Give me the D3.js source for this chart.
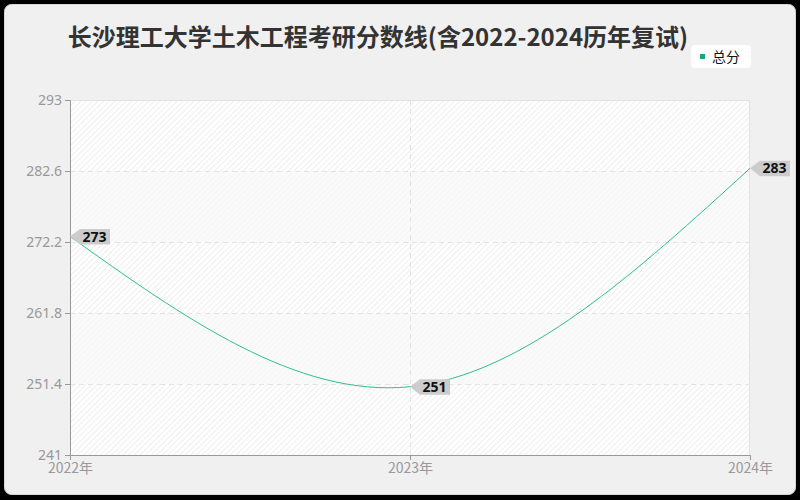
<!DOCTYPE html>
<html>
<head>
<meta charset="utf-8">
<script src="https://cdn.jsdelivr.net/npm/d3@7/dist/d3.min.js"></script>
<style>
  body { margin: 0; background: #000; }
  svg { display: block; }
</style>
</head>
<body>
<div id="chart"></div>
<script>
// Data.
const years = ["2022年", "2023年", "2024年"];
const totalScores = [273, 251, 283];
const yTicks = [241, 251.4, 261.8, 272.2, 282.6, 293];
const seriesName = "总分";
const titleText = "长沙理工大学土木工程考研分数线(含2022-2024历年复试)";

const W = 800, H = 500;
const margin = {top: 100, right: 50, bottom: 45, left: 70};
const width = W - margin.left - margin.right,
      height = H - margin.top - margin.bottom;
const lineColor = "#2dbf8e";

const svg = d3.select("#chart").append("svg")
    .attr("width", W)
    .attr("height", H)
    .style("font-family", "'Noto Sans CJK SC', 'Noto Sans', sans-serif");

// Hatch pattern for the plot background.
const defs = svg.append("defs");
defs.append("pattern")
    .attr("id", "hatch")
    .attr("width", 4).attr("height", 4)
    .attr("patternUnits", "userSpaceOnUse")
    .attr("patternTransform", "rotate(45)")
  .append("rect")
    .attr("width", 1).attr("height", 4)
    .attr("fill", "#eeeeee");

// Panel.
svg.append("rect")
    .attr("x", 0).attr("y", 0)
    .attr("width", W).attr("height", H)
    .attr("fill", "#000");
svg.append("rect")
    .attr("x", 4.5).attr("y", 4.5)
    .attr("width", W - 9).attr("height", H - 10)
    .attr("rx", 7)
    .attr("fill", "#f0f0f0")
    .attr("stroke", "#d8d8d8");

const g = svg.append("g")
    .attr("transform", `translate(${margin.left},${margin.top})`);

const x = d3.scalePoint()
    .domain(years)
    .range([0, width]);

const y = d3.scaleLinear()
    .domain([yTicks[0], yTicks[yTicks.length - 1]])
    .range([height, 0]);

// Alternating bands.
const bands = d3.pairs(yTicks);
g.selectAll(".band")
  .data(bands)
  .join("rect")
    .attr("x", 0)
    .attr("y", d => y(d[1]))
    .attr("width", width)
    .attr("height", d => y(d[0]) - y(d[1]))
    .attr("fill", (d, i) => i % 2 === 0 ? "#ffffff" : "#fafafa");
g.selectAll(".hatch")
  .data(bands)
  .join("rect")
    .attr("x", 0)
    .attr("y", d => y(d[1]))
    .attr("width", width)
    .attr("height", d => y(d[0]) - y(d[1]))
    .attr("fill", "url(#hatch)")
    .attr("opacity", (d, i) => i % 2 === 0 ? 1 : 0.4);

// Frame lines top / right.
g.append("line")
    .attr("x1", 0).attr("x2", width)
    .attr("y1", 0.5).attr("y2", 0.5)
    .attr("stroke", "#e3e3e3");
g.append("line")
    .attr("x1", width - 0.5).attr("x2", width - 0.5)
    .attr("y1", 0).attr("y2", height)
    .attr("stroke", "#e3e3e3");

// Grid lines.
g.selectAll(".hgrid")
  .data(yTicks.slice(1, -1))
  .join("line")
    .attr("x1", 0).attr("x2", width)
    .attr("y1", d => Math.round(y(d)) + 0.5)
    .attr("y2", d => Math.round(y(d)) + 0.5)
    .attr("stroke", "#e3e3e3")
    .attr("stroke-dasharray", "5,4");
g.selectAll(".vgrid")
  .data(years.slice(1, -1))
  .join("line")
    .attr("x1", d => x(d) + 0.5).attr("x2", d => x(d) + 0.5)
    .attr("y1", 0).attr("y2", height)
    .attr("stroke", "#e3e3e3")
    .attr("stroke-dasharray", "5,4");

// Axes.
const yAxis = g.append("g")
    .call(d3.axisLeft(y).tickValues(yTicks).tickSize(5).tickPadding(3)
      .tickFormat(d => d));
const xAxis = g.append("g")
    .attr("transform", `translate(0,${height})`)
    .call(d3.axisBottom(x).tickSize(5).tickPadding(3));
[yAxis, xAxis].forEach(a => {
  a.select(".domain").attr("stroke", "#999");
  a.selectAll(".tick line").attr("stroke", "#999");
  a.selectAll("text")
    .attr("fill", "#999")
    .style("font-size", "14px")
    .style("font-family", "'Noto Sans', sans-serif");
});
xAxis.selectAll("text").style("font-family", "'Noto Sans CJK SC', sans-serif");

// Line.
const line = d3.line()
    .x((d, i) => x(years[i]))
    .y(d => y(d))
    .curve(d3.curveNatural);
g.append("path")
    .datum(totalScores)
    .attr("fill", "none")
    .attr("stroke", lineColor)
    .attr("stroke-width", 1)
    .attr("d", line);

// Point labels (tag pointing left).
const tags = g.selectAll(".tag")
  .data(totalScores)
  .join("g")
    .attr("transform", (d, i) => `translate(${x(years[i])},${y(d)})`);
tags.append("path")
    .attr("d", "M0,0 L10,-7.5 L40,-7.5 L40,8 L10,8 Z")
    .attr("fill", "#cccccc");
tags.append("text")
    .attr("x", 12.5)
    .attr("y", 5)
    .attr("fill", "#111")
    .style("font-size", "14px")
    .style("font-weight", "bold")
    .style("font-family", "'Noto Sans', sans-serif")
    .text(d => d);

// Title.
svg.append("text")
    .attr("x", 378)
    .attr("y", 46)
    .attr("text-anchor", "middle")
    .attr("fill", "#333")
    .style("font-size", "24px")
    .style("font-weight", "bold")
    .text(titleText);

// Legend.
const leg = svg.append("g").attr("transform", "translate(691,45)");
leg.append("rect")
    .attr("width", 60).attr("height", 23)
    .attr("rx", 4)
    .attr("fill", "#fff");
leg.append("rect")
    .attr("x", 9).attr("y", 9)
    .attr("width", 5).attr("height", 5)
    .attr("fill", "#12a97c");
leg.append("text")
    .attr("x", 21).attr("y", 16.5)
    .attr("fill", "#111")
    .style("font-size", "14px")
    .text(seriesName);
</script>
</body>
</html>
